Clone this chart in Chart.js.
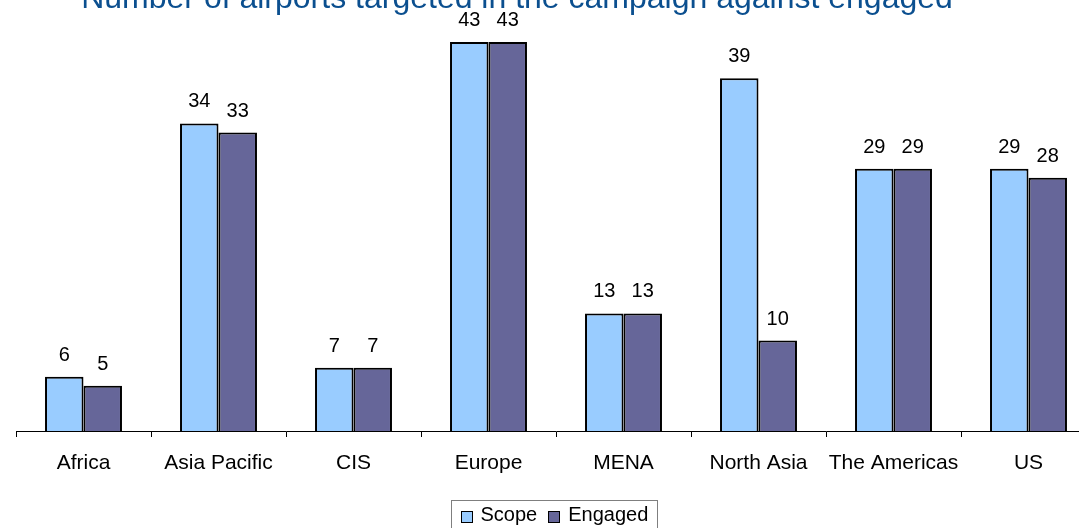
<!DOCTYPE html>
<html>
<head>
<meta charset="utf-8">
<script src="https://cdn.jsdelivr.net/npm/chart.js@4.4.1/dist/chart.umd.min.js"></script>
<style>
  html, body { margin: 0; padding: 0; background: #fff; overflow: hidden; }
  #wrap { position: relative; width: 1100px; height: 528px; }
  canvas { display: block; }
</style>
</head>
<body>
<div id="wrap"><canvas id="chart" width="1100" height="528"></canvas></div>
<script>
// Airports per region: targeted scope vs. engaged
const regions = ['Africa', 'Asia Pacific', 'CIS', 'Europe', 'MENA', 'North Asia', 'The Americas', 'US'];
const scope   = [6, 34, 7, 43, 13, 39, 29, 29];
const engaged = [5, 33, 7, 43, 13, 10, 29, 28];
const seriesNames = ['Scope', 'Engaged'];
const seriesColors = ['#99CCFF', '#666699'];
const chartTitle = 'Number of airports targeted in the campaign against engaged';

const FONT = '"Liberation Sans", Arial, sans-serif';

// Value labels above each bar
const valueLabels = {
  id: 'valueLabels',
  afterDatasetsDraw(chart) {
    const ctx = chart.ctx;
    ctx.save();
    ctx.font = '20px ' + FONT;
    ctx.fillStyle = '#000';
    ctx.textAlign = 'center';
    ctx.textBaseline = 'alphabetic';
    chart.data.datasets.forEach((ds, i) => {
      chart.getDatasetMeta(i).data.forEach((bar, j) => {
        ctx.fillText(String(ds.data[j]), bar.x, bar.y - 16);
      });
    });
    ctx.restore();
  }
};

// Title, partly above the top edge
const topTitle = {
  id: 'topTitle',
  afterDraw(chart) {
    const ctx = chart.ctx;
    ctx.save();
    ctx.font = '32px ' + FONT;
    ctx.fillStyle = '#0B4F8F';
    ctx.textAlign = 'center';
    ctx.textBaseline = 'alphabetic';
    ctx.fillText(chartTitle, 517, 8);
    ctx.restore();
  }
};

// Boxed legend at the bottom
const boxLegend = {
  id: 'boxLegend',
  afterDraw(chart) {
    const ctx = chart.ctx;
    ctx.save();
    ctx.font = '20px ' + FONT;
    const sq = 12, gapSq = 8, gapItem = 11, padX = 9;
    const widths = seriesNames.map(n => sq + gapSq + ctx.measureText(n).width);
    const total = widths.reduce((a, b) => a + b, 0) + gapItem * (seriesNames.length - 1) + padX * 2;
    const cx = 554;
    const left = Math.round(cx - total / 2) + 0.5;
    const top = 500.5;
    ctx.strokeStyle = '#7f7f7f';
    ctx.lineWidth = 1;
    ctx.strokeRect(left, top, Math.round(total), 40);
    let x = left + padX;
    const sqMid = 517, textMid = 515;
    seriesNames.forEach((n, i) => {
      const sx = Math.round(x);
      ctx.fillStyle = seriesColors[i];
      ctx.fillRect(sx, sqMid - sq / 2, sq, sq);
      ctx.strokeStyle = '#000';
      ctx.strokeRect(sx + 0.5, sqMid - sq / 2 + 0.5, sq - 1, sq - 1);
      ctx.fillStyle = '#000';
      ctx.textBaseline = 'middle';
      ctx.textAlign = 'left';
      ctx.fillText(n, x + sq + gapSq, textMid);
      x += widths[i] + gapItem;
    });
    ctx.restore();
  }
};

new Chart(document.getElementById('chart'), {
  type: 'bar',
  data: {
    labels: regions,
    datasets: [
      { label: seriesNames[0], data: scope, backgroundColor: seriesColors[0], borderColor: '#000', borderWidth: 2 },
      { label: seriesNames[1], data: engaged, backgroundColor: seriesColors[1], borderColor: '#000', borderWidth: 2 }
    ]
  },
  options: {
    responsive: false,
    animation: false,
    devicePixelRatio: 1,
    layout: { padding: { left: 16, right: 4, top: 24, bottom: 0 } },
    datasets: { bar: { categoryPercentage: 0.57, barPercentage: 1.0 } },
    plugins: {
      legend: { display: false },
      title: { display: false },
      tooltip: { enabled: false }
    },
    scales: {
      x: {
        grid: { offset: true, drawOnChartArea: false, drawTicks: true, tickLength: 6, color: '#000' },
        border: { display: true, color: '#000', width: 1 },
        ticks: { color: '#000', font: { family: FONT, size: 21 }, padding: 14, maxRotation: 0 },
        afterFit(scale) { scale.height = 97; }
      },
      y: {
        display: false,
        min: 0,
        max: 45
      }
    }
  },
  plugins: [valueLabels, topTitle, boxLegend]
});
</script>
</body>
</html>
